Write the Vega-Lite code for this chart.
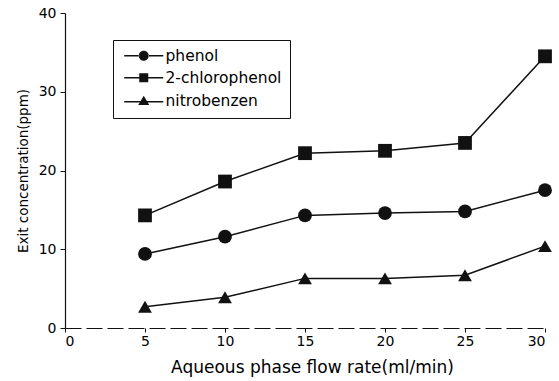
{
  "$schema": "https://vega.github.io/schema/vega-lite/v6.json",
  "width": 480,
  "height": 315,
  "autosize": "none",
  "padding": {"left": 65, "top": 13, "right": 14, "bottom": 53},
  "background": "white",
  "config": {
    "view": {"stroke": null},
    "font": "DejaVu Sans",
    "axis": {"labelFont": "DejaVu Sans", "titleFont": "DejaVu Sans", "labelColor": "#000", "titleColor": "#000", "domainColor": "#111", "tickColor": "#111", "grid": false, "titleFontWeight": "normal", "labelFontSize": 14}
  },
  "data": {
    "values": [
      {"rate": 5, "conc": 9.4, "compound": "phenol"},
      {"rate": 10, "conc": 11.6, "compound": "phenol"},
      {"rate": 15, "conc": 14.3, "compound": "phenol"},
      {"rate": 20, "conc": 14.6, "compound": "phenol"},
      {"rate": 25, "conc": 14.8, "compound": "phenol"},
      {"rate": 30, "conc": 17.5, "compound": "phenol"},
      {"rate": 5, "conc": 14.3, "compound": "2-chlorophenol"},
      {"rate": 10, "conc": 18.6, "compound": "2-chlorophenol"},
      {"rate": 15, "conc": 22.2, "compound": "2-chlorophenol"},
      {"rate": 20, "conc": 22.5, "compound": "2-chlorophenol"},
      {"rate": 25, "conc": 23.5, "compound": "2-chlorophenol"},
      {"rate": 30, "conc": 34.5, "compound": "2-chlorophenol"},
      {"rate": 5, "conc": 2.7, "compound": "nitrobenzen"},
      {"rate": 10, "conc": 3.9, "compound": "nitrobenzen"},
      {"rate": 15, "conc": 6.3, "compound": "nitrobenzen"},
      {"rate": 20, "conc": 6.3, "compound": "nitrobenzen"},
      {"rate": 25, "conc": 6.7, "compound": "nitrobenzen"},
      {"rate": 30, "conc": 10.4, "compound": "nitrobenzen"}
    ]
  },
  "encoding": {
    "x": {
      "field": "rate", "type": "quantitative",
      "scale": {"domain": [0, 30], "nice": false},
      "axis": {"values": [0, 5, 10, 15, 20, 25, 30], "title": "Aqueous phase flow rate(ml/min)", "titleFontSize": 17, "titleX": 247, "titleAlign": "center", "tickSize": 4, "labelPadding": 2, "titlePadding": 11, "domainDash": [16, 5], "domainWidth": 1.2}
    },
    "y": {
      "field": "conc", "type": "quantitative",
      "scale": {"domain": [0, 40], "nice": false},
      "axis": {"values": [0, 10, 20, 30, 40], "title": "Exit concentration(ppm)", "titleFontSize": 13.5, "tickSize": 5, "labelPadding": 4, "titlePadding": 8, "domainWidth": 1.2}
    }
  },
  "layer": [
    {
      "mark": {"type": "line", "color": "#111", "strokeWidth": 1.5},
      "encoding": {"detail": {"field": "compound"}}
    },
    {
      "mark": {"type": "point", "filled": true, "color": "#111", "opacity": 1, "size": 190},
      "encoding": {
        "shape": {
          "field": "compound", "type": "nominal",
          "scale": {"domain": ["phenol", "2-chlorophenol", "nitrobenzen"], "range": ["circle", "square", "triangle-up"]},
          "legend": null
        }
      }
    },
    {
      "mark": {"type": "point", "filled": true, "color": "#111", "size": 0},
      "encoding": {
        "shape": {
          "field": "compound", "type": "nominal",
          "scale": {"domain": ["phenol", "2-chlorophenol", "nitrobenzen"], "range": [
            "M-3.9,-0.15H-0.9V0.15H-3.9ZM0.9,-0.15H3.9V0.15H0.9ZM-1,0A1,1 0 1,0 1,0A1,1 0 1,0 -1,0Z",
            "M-3.9,-0.15H-0.85V0.15H-3.9ZM0.85,-0.15H3.9V0.15H0.85ZM-0.9,-0.9H0.9V0.9H-0.9Z",
            "M-3.9,0.05H-0.6V0.35H-3.9ZM0.6,0.05H3.9V0.35H0.6ZM0,-1L1.1,0.85H-1.1Z"
          ]},
          "legend": {
            "title": null,
            "orient": "none",
            "legendX": 48,
            "legendY": 27,
            "strokeColor": "#111",
            "padding": 8,
            "symbolSize": 100,
            "symbolOffset": 15,
            "labelOffset": 14,
            "rowPadding": 5,
            "labelFontSize": 15.5,
            "labelFont": "DejaVu Sans",
            "labelColor": "#000",
            "symbolFillColor": "#111",
            "symbolOpacity": 1
          }
        }
      }
    }
  ],
  "resolve": {"scale": {"shape": "independent"}}
}
